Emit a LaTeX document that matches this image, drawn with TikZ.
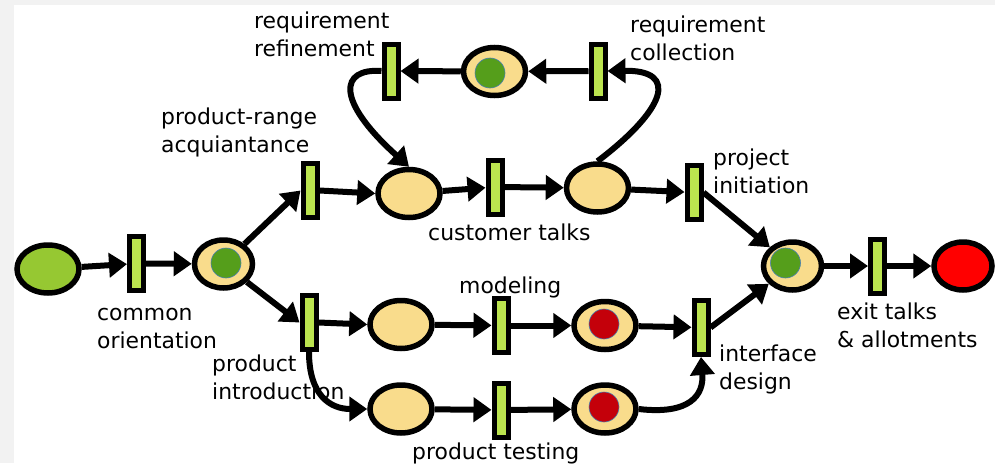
\documentclass[tikz,border=0pt]{standalone}
\usepackage{fontspec}
\setmainfont{DejaVu Sans}
\usetikzlibrary{arrows.meta,shapes.geometric}
\definecolor{transfill}{HTML}{BBE44F}
\definecolor{placefill}{HTML}{F9DC8C}
\definecolor{startfill}{HTML}{96C832}
\definecolor{tokgreen}{HTML}{559E1B}
\definecolor{tokred}{HTML}{C4000A}
\definecolor{tokedge}{HTML}{4A7FB0}
\tikzset{
  place/.style={ellipse,draw=black,line width=5.5pt,fill=placefill,minimum width=62pt,minimum height=48pt,inner sep=0pt},
  narrowplace/.style={place,minimum width=58pt},
  trans/.style={rectangle,draw=black,line width=5pt,fill=transfill,minimum width=14pt,minimum height=54pt,inner sep=0pt},
  token/.style={circle,draw=tokedge,line width=0.6pt,minimum size=30pt,inner sep=0pt},
  lbl/.style={anchor=base west,align=left,inner sep=0pt,font=\fontsize{21.9}{28}\selectfont},
  arc/.style={line width=6pt,-{Triangle[length=18pt,width=24pt]}}
}
\begin{document}
\begin{tikzpicture}[x=1pt,y=-1pt]
\useasboundingbox (0,0) rectangle (995,463);
\fill[black!5] (0,0) rectangle (995,463);
\fill[white] (14,5) rectangle (995,463);
% places
\node[place,fill=startfill] (p0) at (48,269) {};
\node[narrowplace] (p1) at (223.5,264) {};
\node[place] (p2) at (409,193.5) {};
\node[place] (p3) at (597.5,188) {};
\node[place] (ptop) at (494.5,71.5) {};
\node[place] (pm) at (401,324.5) {};
\node[place] (pt) at (401,409) {};
\node[place] (pm2) at (605,325.5) {};
\node[place] (pt2) at (605,409) {};
\node[narrowplace] (pe) at (792.5,266) {};
\node[narrowplace,fill=red] (pr) at (963,266) {};
% tokens
\node[token,fill=tokgreen] (k1) at (226,263) {};
\node[token,fill=tokgreen] (k2) at (490,73) {};
\node[token,fill=tokgreen] (k3) at (785.5,263) {};
\node[token,fill=tokred] (k4) at (604,324) {};
\node[token,fill=tokred] (k5) at (604,407) {};
% transitions
\node[trans] (t0) at (136.5,263.5) {};
\node[trans] (t1) at (310,190.5) {};
\node[trans] (t2) at (309,322.5) {};
\node[trans] (t3) at (495,187) {};
\node[trans] (t4) at (391,71) {};
\node[trans] (t5) at (598,71) {};
\node[trans] (t6) at (694,192.5) {};
\node[trans] (t7) at (501,325.5) {};
\node[trans] (t8) at (501,410) {};
\node[trans] (t9) at (701,327.5) {};
\node[trans] (t10) at (877.5,266) {};
% labels
\node[lbl] (l1) at (254,56) {requirement\\refinement};
\node[lbl] (l2) at (630,60) {requirement\\collection};
\node[lbl] (l3) at (161,152.5) {product-range\\acquiantance};
\node[lbl] (l4) at (428,240.5) {customer talks};
\node[lbl] (l5) at (713,193.5) {project\\initiation};
\node[lbl] (l6) at (97,348.5) {common\\orientation};
\node[lbl] (l7) at (212,399.5) {product\\introduction};
\node[lbl] (l8) at (459,293.5) {modeling};
\node[lbl] (l9) at (719,389.5) {interface\\design};
\node[lbl] (l10) at (837,347.5) {exit talks\\\& allotments};
\node[lbl] (l11) at (412,459.5) {product testing};
% connectors
\draw[arc] (p0) -- (t0);
\draw[arc] (t0) -- (p1);
\draw[arc] (p1) -- (t1.west);
\draw[arc] (p1) -- (t2.west);
\draw[arc] (t1.east) -- (p2.west);
\draw[arc] (p2) -- (t3);
\draw[arc] (t3) -- (p3);
\draw[arc] (p3) -- (t6);
\draw[arc] (t6.east) -- (pe);
\draw[arc] (t2.east) -- (pm.west);
\draw[arc] (pm) -- (t7);
\draw[arc] (t7) -- (pm2);
\draw[arc] (pm2) -- (t9);
\draw[arc] (t9.east) -- (pe);
\draw[arc] (pt) -- (t8);
\draw[arc] (t8) -- (pt2);
\draw[arc] (pe) -- (t10);
\draw[arc] (t10) -- (pr);
\draw[arc] (t5) -- (ptop);
\draw[arc] (ptop) -- (t4);
\draw[arc] (t4.west) .. controls (340,68) and (335,100) .. (p2.north);
\draw[arc] (p3.north) .. controls (665,110) and (680,70) .. (t5.east);
\draw[arc] (t2.south) .. controls (309,395) and (330,409) .. (pt.west);
\draw[arc] (pt2.east) .. controls (690,415) and (704,395) .. (t9.south);
\end{tikzpicture}
\end{document}
